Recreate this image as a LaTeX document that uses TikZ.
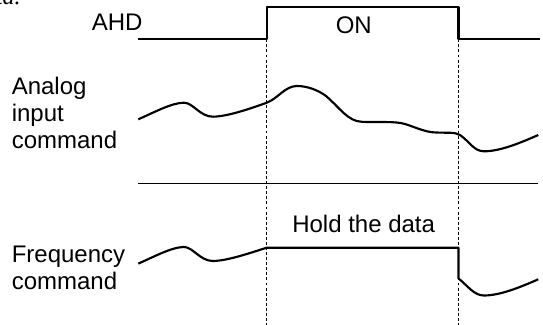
\documentclass[tikz,border=0pt]{standalone}
\usepackage{fontspec}
\setmainfont{Liberation Sans}
\newfontfamily\cutfont{Liberation Serif}

\begin{document}
\begin{tikzpicture}[x=0.75pt,y=0.75pt,yscale=-1,xscale=1,
    signal/.style={line width=1.6pt, line join=round},
    guide/.style={line width=0.5pt, dash pattern=on 2.2pt off 1.6pt},
    lbl/.style={inner sep=0pt, font=\fontsize{18}{20.25}\selectfont}]
\useasboundingbox (0,0) rectangle (543,325);
% text cut off at the top edge
\begin{scope}
\clip (0,0) rectangle (543,325);
\draw (21,4.5) node (cut) [anchor=base east][inner sep=0pt] {\cutfont\itshape\fontsize{18}{20}\selectfont ta.};
\end{scope}
% AHD signal
\coordinate (rise) at (266.7,39.3);
\coordinate (fall) at (458.5,39.3);
\draw [signal] (138.3,39.3) -- (rise) -- (266.7,7.3) -- (458.5,7.3) -- (fall) -- (540,39.3);
\draw [guide] (rise) -- (266.7,325);
\draw [guide] (fall) -- (458.5,325);
% separator
\draw [line width=0.8pt] (138.3,183.3) -- (538.3,183.3);
% analog input
\draw [signal] (138.3,119.3) .. controls (155,112) and (172,102.7) .. (184,102.7) .. controls (193,102.7) and (200,116.7) .. (213,116.7) .. controls (228,116.5) and (252,108) .. (266.7,102.7) .. controls (278,98.5) and (285,86) .. (297,86) .. controls (307,86) and (318,90) .. (326,96) .. controls (340,108) and (348,121.5) .. (362,121.8) .. controls (378,122.5) and (395,121) .. (405,124) .. controls (415,127) and (425,132.3) .. (436,132.5) .. controls (448,133) and (455,132) .. (460,135) .. controls (470,142) and (474,151.3) .. (484,151.3) .. controls (500,151.3) and (520,143) .. (538.3,135);
% frequency command
\draw [signal] (138.3,263.6) .. controls (155,256.3) and (172,247) .. (184,247) .. controls (193,247) and (200,261) .. (213,261) .. controls (228,260.8) and (252,252.3) .. (266.7,247.7) -- (458.5,247.7) -- (458.5,278.5) .. controls (468,286) and (474,295.5) .. (484,295.5) .. controls (500,295.5) and (520,287.3) .. (538.3,279.3);
% labels
\draw (91.5,30) node (ahd) [lbl, anchor=base west] {AHD};
\draw (335.5,33.5) node (on) [lbl, anchor=base west] {ON};
\draw (11.5,76.8) node (analog) [lbl, anchor=north west, align=left] {Analog\\input\\command};
\draw (11.5,246.1) node (freq) [lbl, anchor=north west, align=left] {Frequency\\command};
\draw (292,232.3) node (hold) [lbl, anchor=base west] {Hold the data};
\end{tikzpicture}
\end{document}
